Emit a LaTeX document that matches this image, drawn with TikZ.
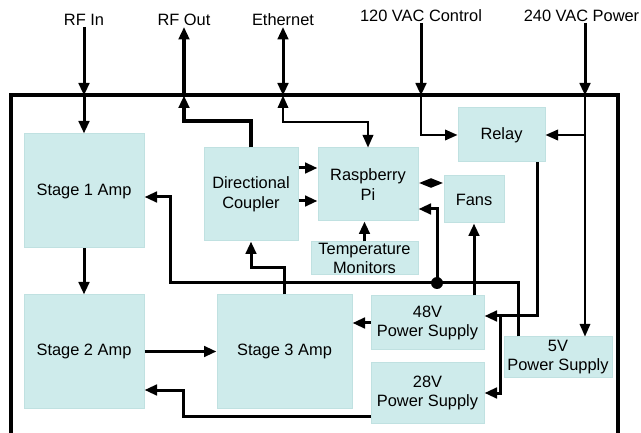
\documentclass[tikz,border=0pt]{standalone}
\usepackage{fontspec}
\setmainfont{Liberation Sans}
\usetikzlibrary{arrows.meta}
\definecolor{boxfill}{RGB}{206,235,235}
\definecolor{boxline}{RGB}{192,225,225}
\begin{document}
\begin{tikzpicture}[x=1pt,y=-1pt,
  >={Triangle[length=12.5pt,width=10.5pt]},
  blk/.style={draw=boxline,fill=boxfill,line width=1pt,align=center,inner sep=1pt,font=\fontsize{16.4}{19.5}\selectfont},
  lbl/.style={inner sep=1pt,text height=11.5pt,text depth=0pt,font=\fontsize{16.4}{19.5}\selectfont},
  conn/.style={line width=3pt},
  heavy/.style={line width=4pt},
  lite/.style={line width=2pt},
  hair/.style={line width=1.6pt},
  diam/.style={line width=3pt,{Triangle[length=12.5pt,width=8.5pt]}-{Triangle[length=12.5pt,width=8.5pt]}}
]
\useasboundingbox (0,0) rectangle (641,433);

% labels
\node[lbl] (rfin) at (84,20) {RF In};
\node[lbl] (rfout) at (184,20) {RF Out};
\node[lbl] (eth) at (283,20) {Ethernet};
\node[lbl] (vac) at (421,16) {120 VAC Control};
\node[lbl] (pwr) at (581.5,16) {240 VAC Power};

% enclosure
\draw[line width=4pt] (10.5,433) -- (10.5,95.5) -- (618,95.5) -- (618,433);

% blocks
\node[blk,minimum width=120pt,minimum height=114pt] (s1) at (84,191) {Stage 1 Amp};
\node[blk,minimum width=120pt,minimum height=113pt] (s2) at (84,351.5) {Stage 2 Amp};
\node[blk,minimum width=135pt,minimum height=113pt] (s3) at (284.5,351.5) {Stage 3 Amp};
\node[blk,minimum width=94pt,minimum height=93pt] (coupler) at (251,194.5) {Directional\\Coupler};
\node[blk,minimum width=100pt,minimum height=73pt] (pi) at (368,184.5) {Raspberry\\Pi};
\node[blk,minimum width=107pt,minimum height=33pt] (temp) at (364.5,258.5) {Temperature\\Monitors};
\node[blk,minimum width=60pt,minimum height=47pt] (fans) at (474,199.5) {Fans};
\node[blk,minimum width=87pt,minimum height=54pt] (relay) at (501.5,135) {Relay};
\node[blk,minimum width=113pt,minimum height=54pt] (p48) at (427.5,323) {48V\\Power Supply};
\node[blk,minimum width=113pt,minimum height=60pt] (p28) at (427.5,393) {28V\\Power Supply};
\node[blk,minimum width=108pt,minimum height=40pt] (v5) at (558,357) {5V\\Power Supply};

% junction coordinates
\coordinate (rfinJ) at (84,95.5);
\coordinate (rfoJ) at (184,95.5);
\coordinate (ethJ) at (283,95.5);
\coordinate (ethK) at (283,122);
\coordinate (vacJ) at (421,95.5);
\coordinate (pwrJ) at (585,95.5);
\coordinate (rlBend) at (537,316);
\coordinate (brTop) at (500,316);
\coordinate (busR) at (518,283);
\coordinate (busL) at (170,283);
\coordinate (dot) at (437,283);
\coordinate (k28) at (183,390);

% RF in
\draw[conn,->] (rfin.south) -- (rfinJ);
\draw[conn,->] (rfinJ) -- (s1.north);
\draw[conn,->] (s1.south) -- (s2.north);
\draw[conn,->] (s2.east) -- (s3.west);

% stage 3 -> coupler
\draw[conn,->] (s3.north) -- ++(0,-27) -| (coupler.south);

% coupler -> RF out
\draw[heavy,->] (coupler.north) -- ++(0,-26) -| (rfoJ);
\draw[heavy,->] (rfoJ) -- (rfout.south);

% Ethernet
\draw[conn,<->] (eth.south) -- (ethJ);
\draw[lite,<->] (ethJ) -- (ethK) -| (pi.north);

% coupler -> Pi
\path ([yshift=26.5pt]coupler.east) coordinate (cpA);
\path ([yshift=-6.5pt]coupler.east) coordinate (cpB);
\draw[conn,->] (cpA) -- (cpA -| pi.west);
\draw[conn,->] (cpB) -- (cpB -| pi.west);

% Pi <-> Fans
\path ([yshift=1.5pt]pi.east) coordinate (pfA);
\draw[diam] (pfA) -- (pfA -| fans.west);

% Temperature -> Pi
\draw[conn,->] (temp.north) -- (temp.north |- pi.south);

% 120 VAC
\draw[conn,->] (vac.south) -- (vacJ);
\draw[lite,->] (vacJ) |- (relay.west);

% 240 VAC
\draw[conn,->] (pwrJ |- pwr.south) -- (pwrJ);
\draw[hair,->] (pwrJ) -- (pwrJ |- v5.north);
\draw[lite,->] (pwrJ |- relay.east) -- (relay.east);

% relay -> 48V and 28V
\draw[conn,->] (relay.south -| rlBend) -- (rlBend) -- (rlBend -| p48.east);
\draw[conn,->] (brTop) |- (p28.east);

% 48V -> Stage 3, 48V -> Fans
\draw[conn,->] (p48.west) -- (p48.west -| s3.east);
\draw[conn,->] (fans.south |- p48.north) -- (fans.south);

% 5V bus
\path ([yshift=-6pt]s1.east) coordinate (s1in);
\path ([yshift=-24.5pt]pi.east) coordinate (piin);
\draw[conn,->] (v5.north -| busR) -- (busR) -- (busL) |- (s1in);
\draw[conn,->] (dot) |- (piin);
\fill (dot) circle (6pt);

% 28V -> Stage 2
\path ([yshift=-23pt]p28.west) coordinate (p28out);
\path ([yshift=-38.5pt]s2.east) coordinate (s2in);
\draw[conn,->] (p28out) -| (k28) -- (s2in);
\end{tikzpicture}
\end{document}
